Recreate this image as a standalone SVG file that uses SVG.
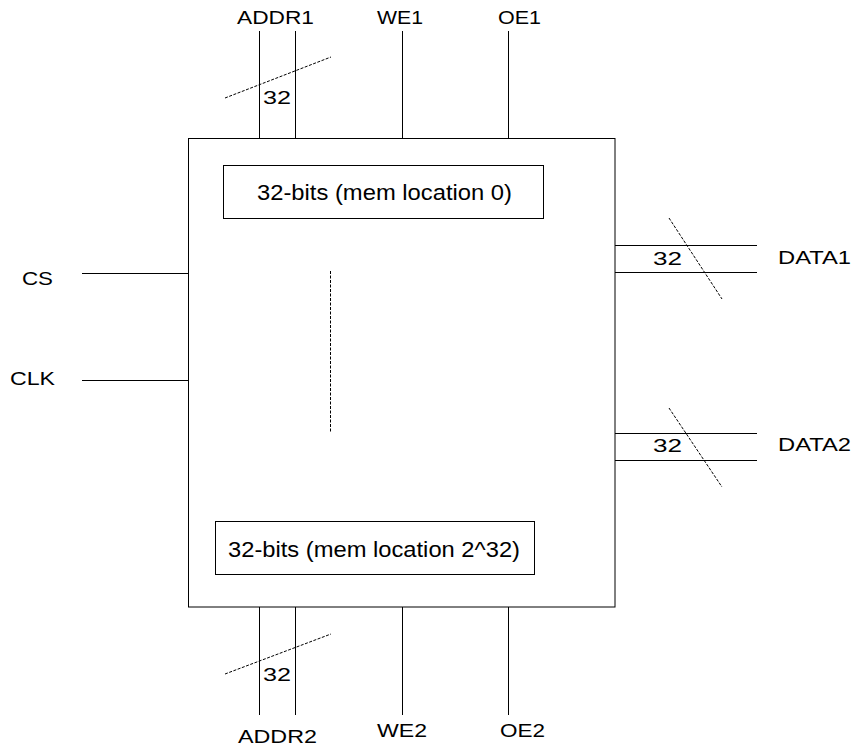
<svg xmlns="http://www.w3.org/2000/svg" width="854" height="748" viewBox="0 0 854 748">
<style>
.ln{stroke:#000;stroke-width:1;fill:none}
.dash{stroke:#000;stroke-width:1;fill:none;stroke-dasharray:3,1.5}
.box{stroke:#000;stroke-width:1;fill:#fff}
.lb{font-family:"Liberation Sans",Arial,sans-serif;font-size:18.5px;fill:#000}
.bt{font-family:"Liberation Sans",Arial,sans-serif;font-size:21.5px;fill:#000}
</style>
<rect width="854" height="748" fill="#fff"/>
<g id="connectors">
<line class="ln" x1="259.5" y1="31" x2="259.5" y2="138"/>
<line class="ln" x1="295.5" y1="31" x2="295.5" y2="138"/>
<line class="ln" x1="402.5" y1="31" x2="402.5" y2="138"/>
<line class="ln" x1="508.5" y1="31" x2="508.5" y2="138"/>
<line class="dash" x1="225" y1="98" x2="331" y2="57"/>
<line class="ln" x1="259.5" y1="607" x2="259.5" y2="715"/>
<line class="ln" x1="295.5" y1="607" x2="295.5" y2="715"/>
<line class="ln" x1="402.5" y1="607" x2="402.5" y2="715"/>
<line class="ln" x1="508.5" y1="607" x2="508.5" y2="715"/>
<line class="dash" x1="225" y1="674" x2="331" y2="634"/>
<line class="ln" x1="82" y1="273.5" x2="188" y2="273.5"/>
<line class="ln" x1="82" y1="380.5" x2="188" y2="380.5"/>
<line class="ln" x1="615" y1="245.5" x2="757" y2="245.5"/>
<line class="ln" x1="615" y1="272.5" x2="757" y2="272.5"/>
<line class="dash" x1="669" y1="218" x2="722" y2="299"/>
<line class="ln" x1="615" y1="433.5" x2="757" y2="433.5"/>
<line class="ln" x1="615" y1="460.5" x2="757" y2="460.5"/>
<line class="dash" x1="669" y1="408" x2="722" y2="487"/>
</g>
<g id="memory">
<rect class="box" x="188.5" y="138.5" width="426.5" height="468.5"/>
<line class="dash" x1="330.5" y1="271" x2="330.5" y2="433"/>
</g>
<g id="loc0">
<rect class="box" x="223.5" y="165.5" width="320" height="53"/>
<text class="bt" x="257" y="200" textLength="255" lengthAdjust="spacingAndGlyphs">32-bits (mem location 0)</text>
</g>
<g id="locN">
<rect class="box" x="215.5" y="521.5" width="319" height="53"/>
<text class="bt" x="228" y="557" textLength="292" lengthAdjust="spacingAndGlyphs">32-bits (mem location 2^32)</text>
</g>
<g id="labels">
<text class="lb" x="237" y="24" textLength="77" lengthAdjust="spacingAndGlyphs">ADDR1</text>
<text class="lb" x="377" y="24" textLength="46" lengthAdjust="spacingAndGlyphs">WE1</text>
<text class="lb" x="498" y="24" textLength="43" lengthAdjust="spacingAndGlyphs">OE1</text>
<text class="lb" x="263" y="104" textLength="28" lengthAdjust="spacingAndGlyphs">32</text>
<text class="lb" x="263" y="681" textLength="28" lengthAdjust="spacingAndGlyphs">32</text>
<text class="lb" x="238" y="743" textLength="79" lengthAdjust="spacingAndGlyphs">ADDR2</text>
<text class="lb" x="377" y="737" textLength="50" lengthAdjust="spacingAndGlyphs">WE2</text>
<text class="lb" x="500" y="737" textLength="45" lengthAdjust="spacingAndGlyphs">OE2</text>
<text class="lb" x="22" y="285" textLength="31" lengthAdjust="spacingAndGlyphs">CS</text>
<text class="lb" x="10" y="385" textLength="45" lengthAdjust="spacingAndGlyphs">CLK</text>
<text class="lb" x="653" y="265" textLength="29" lengthAdjust="spacingAndGlyphs">32</text>
<text class="lb" x="653" y="452" textLength="29" lengthAdjust="spacingAndGlyphs">32</text>
<text class="lb" x="778" y="264" textLength="73" lengthAdjust="spacingAndGlyphs">DATA1</text>
<text class="lb" x="778" y="451" textLength="73" lengthAdjust="spacingAndGlyphs">DATA2</text>
</g>
</svg>
